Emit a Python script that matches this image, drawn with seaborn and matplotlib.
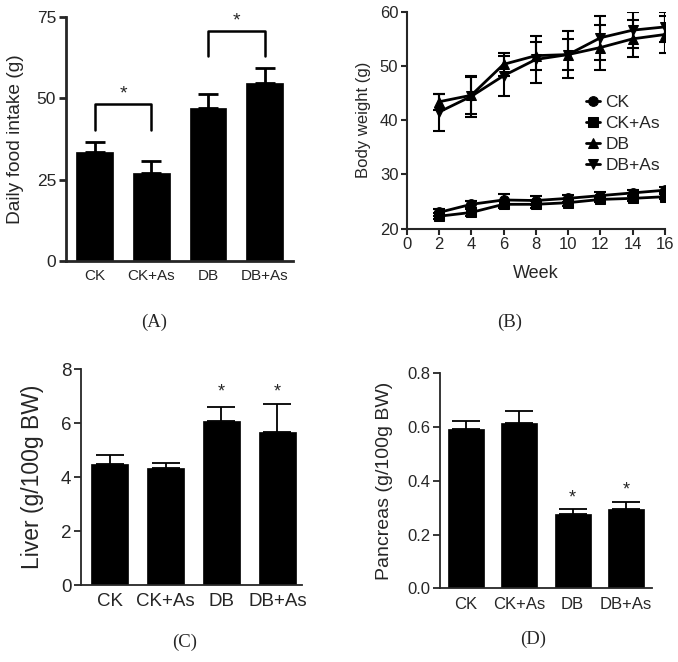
import numpy as np
import pandas as pd
import matplotlib
matplotlib.use("Agg")
import matplotlib.pyplot as plt
import seaborn as sns

groups = ["CK", "CK+As", "DB", "DB+As"]

# (A) daily food intake
food = [33.5, 27.0, 46.9, 54.6]
food_err = [3.2, 3.7, 4.4, 4.7]
food_pairs = [(0, 1), (2, 3)]

# (B) body weight over weeks
weeks = [2, 4, 6, 8, 10, 12, 14, 16]
bw_ck = [23.0, 24.5, 25.3, 25.2, 25.6, 26.1, 26.6, 27.1]
bw_ck_err = [0.6, 0.6, 1.1, 0.9, 0.7, 0.6, 0.5, 0.5]
bw_ckas = [22.3, 23.0, 24.5, 24.5, 24.8, 25.4, 25.6, 25.9]
bw_ckas_err = [0.6, 0.6, 0.6, 0.6, 0.6, 0.5, 0.5, 0.5]
bw_db = [43.4, 44.6, 50.3, 51.9, 52.1, 53.4, 55.0, 55.8]
bw_db_err = [1.5, 3.4, 2.1, 2.6, 2.8, 4.2, 3.4, 3.5]
bw_dbas = [41.5, 44.4, 48.2, 51.2, 52.1, 55.2, 56.6, 57.2]
bw_dbas_err = [3.4, 3.8, 3.7, 4.3, 4.3, 4.1, 3.3, 2.7]

# (C) liver index
liver = [4.48, 4.34, 6.07, 5.69]
liver_err = [0.33, 0.17, 0.52, 1.01]
liver_star = [False, False, True, True]

# (D) pancreas index
pancreas = [0.592, 0.616, 0.275, 0.295]
pancreas_err = [0.030, 0.044, 0.020, 0.028]
pancreas_star = [False, False, True, True]

sns.set_style("ticks")
plt.rcParams["font.family"] = ["Liberation Sans", "DejaVu Sans"]

fig = plt.figure(figsize=(6.78, 6.62), dpi=100)
axA = fig.add_axes([0.097, 0.6057, 0.335, 0.3686])
axB = fig.add_axes([0.5998, 0.6545, 0.381, 0.3278])
axC = fig.add_axes([0.1195, 0.1163, 0.326, 0.3258])
axD = fig.add_axes([0.649, 0.1113, 0.3127, 0.3248])


def bar_panel(ax, vals, errs, lw, width, capsize, fs_tick, fs_x):
    df = pd.DataFrame({"group": groups, "val": vals})
    sns.barplot(data=df, x="group", y="val", color="black", width=width,
                errorbar=None, ax=ax, saturation=1, edgecolor="black",
                linewidth=0.5)
    x = np.arange(len(vals))
    ax.errorbar(x, vals, yerr=[np.zeros(len(vals)), errs], fmt="none",
                ecolor="black", elinewidth=lw, capsize=capsize, capthick=lw)
    sns.despine(ax=ax)
    ax.spines["left"].set_linewidth(lw)
    ax.spines["bottom"].set_linewidth(lw)
    ax.tick_params(axis="y", width=lw, length=5, labelsize=fs_tick, pad=2)
    ax.tick_params(axis="x", length=0, labelsize=fs_x, pad=6)
    ax.set_xlabel("")
    ax.set_xlim(-0.51, 3.5)


# Panel A
bar_panel(axA, food, food_err, 2.0, 0.65, 7, 12.5, 11)
axA.set_ylim(0, 75)
axA.set_yticks([0, 25, 50, 75])
axA.set_ylabel("Daily food intake (g)", fontsize=13.8, labelpad=9)
for i, j in food_pairs:
    top = max(food[i] + food_err[i], food[j] + food_err[j]) + 11.5
    axA.plot([i, i, j, j], [top - 7.8, top, top, top - 7.8], color="black", lw=1.8)
    axA.text((i + j) / 2, top + 0.5, "*", ha="center", va="bottom", fontsize=14)

# Panel B
series = [("CK", bw_ck, bw_ck_err, "o"), ("CK+As", bw_ckas, bw_ckas_err, "s"),
          ("DB", bw_db, bw_db_err, "^"), ("DB+As", bw_dbas, bw_dbas_err, "v")]
for name, vals, errs, mk in series:
    axB.errorbar(weeks, vals, yerr=errs, fmt="none", ecolor="black",
                 elinewidth=1.5, capsize=4, capthick=1.5)
    sns.lineplot(x=weeks, y=vals, marker=mk, color="black", lw=2, ms=7,
                 markeredgecolor="black", label=name, ax=axB)
axB.set_xlim(0, 16)
axB.set_ylim(20, 60)
axB.set_xticks(range(0, 17, 2))
axB.set_yticks([20, 30, 40, 50, 60])
sns.despine(ax=axB)
axB.spines["left"].set_linewidth(1.5)
axB.spines["bottom"].set_linewidth(1.5)
axB.tick_params(width=1.5, length=4, labelsize=12, pad=2)
axB.set_xlabel("Week", fontsize=13, labelpad=9)
axB.set_ylabel("Body weight (g)", fontsize=12, labelpad=6)
axB.legend(loc="upper left", bbox_to_anchor=(0.695, 0.615), frameon=False,
           fontsize=12.5, handlelength=0.8, handletextpad=0.3,
           labelspacing=0.33, borderaxespad=0, borderpad=0)

# Panel C
bar_panel(axC, liver, liver_err, 1.3, 0.67, 10, 13.5, 13.5)
axC.set_ylim(0, 8)
axC.set_yticks([0, 2, 4, 6, 8])
axC.set_xlim(-0.51, 3.44)
axC.set_ylabel("Liver (g/100g BW)", fontsize=16.5, labelpad=12)
for i, s in enumerate(liver_star):
    if s:
        axC.text(i, 6.85, "*", ha="center", va="bottom", fontsize=13)

# Panel D
bar_panel(axD, pancreas, pancreas_err, 1.3, 0.675, 10, 12, 12)
axD.set_ylim(0, 0.8)
axD.set_yticks([0, 0.2, 0.4, 0.6, 0.8])
axD.set_yticklabels(["0.0", "0.2", "0.4", "0.6", "0.8"])
axD.set_xlim(-0.49, 3.49)
axD.set_ylabel("Pancreas (g/100g BW)", fontsize=14, labelpad=10)
for i, s in enumerate(pancreas_star):
    if s:
        axD.text(i, pancreas[i] + pancreas_err[i] + 0.01, "*", ha="center",
                 va="bottom", fontsize=13)

# panel letters
for lab, x, y in [("(A)", 0.228, 0.513), ("(B)", 0.752, 0.513),
                  ("(C)", 0.273, 0.030), ("(D)", 0.786, 0.034)]:
    fig.text(x, y, lab, ha="center", va="center", fontsize=13.5,
             family=["Liberation Serif", "DejaVu Serif"])

fig.savefig("out.png", dpi=100)
